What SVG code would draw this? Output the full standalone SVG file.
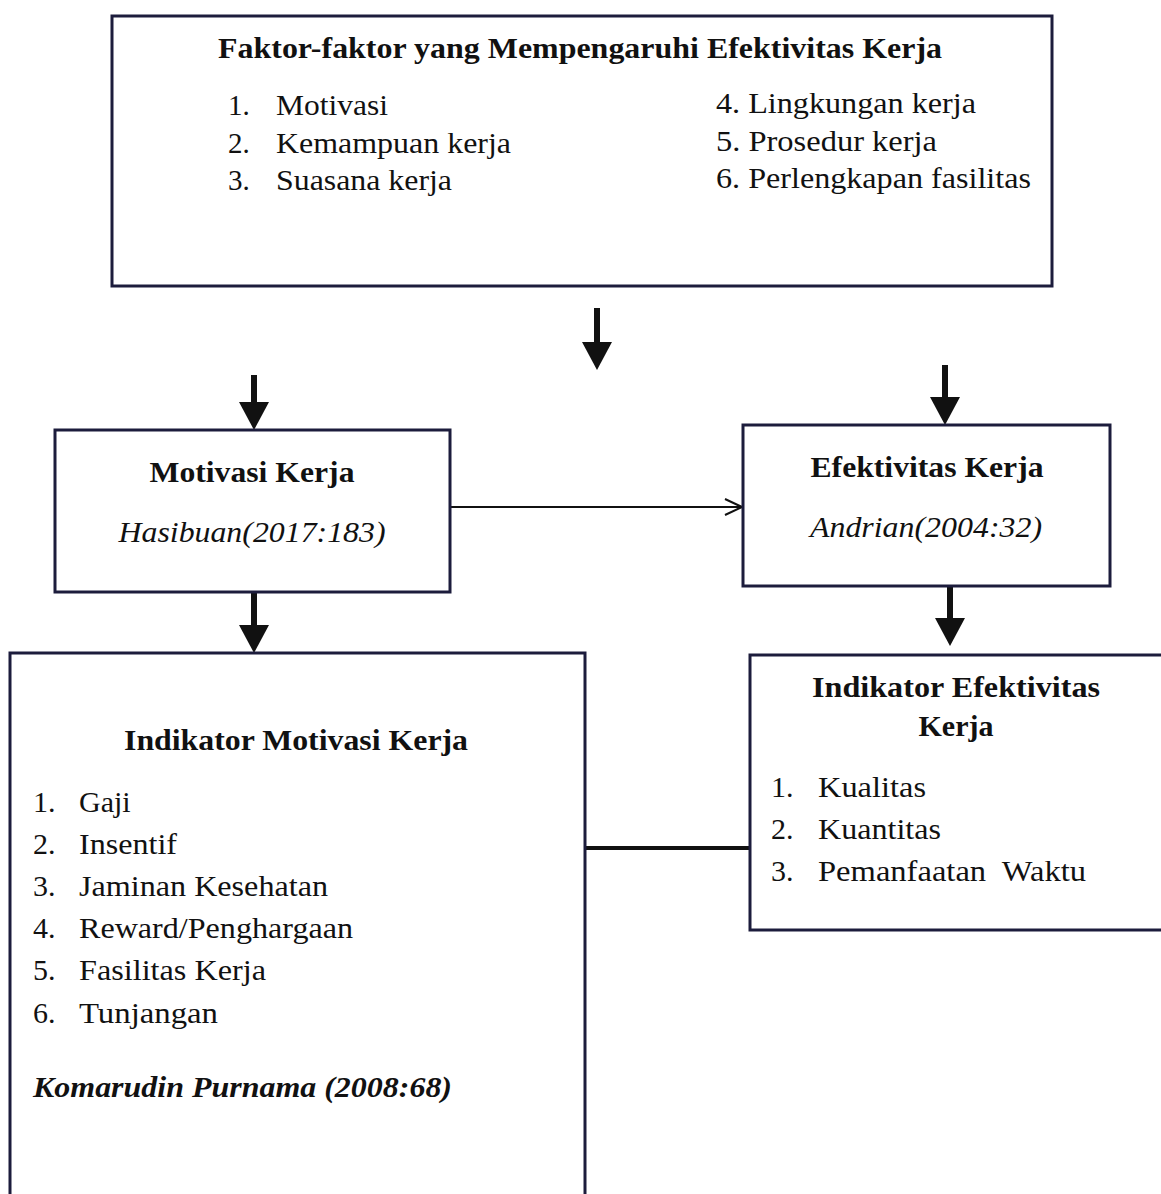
<svg xmlns="http://www.w3.org/2000/svg" width="1161" height="1194" viewBox="0 0 1161 1194" font-family="'Liberation Serif', Tinos, 'Times New Roman', Times, serif">
<defs>
<style>
.box{fill:#fff;stroke:#1c1c3c;stroke-width:3}
.t{fill:#111}
.b{font-weight:bold}
.i{font-style:italic}
.m{text-anchor:middle}
.thick{stroke:#111;stroke-width:6;fill:none}
</style>
<marker id="ah" markerUnits="userSpaceOnUse" viewBox="0 0 28 30" markerWidth="28" markerHeight="30" refX="8" refY="15" orient="auto">
<path d="M0,0 L28,15 L0,30 Z" fill="#111"/>
</marker>
<marker id="oa" markerUnits="userSpaceOnUse" viewBox="0 0 20 18" markerWidth="20" markerHeight="18" refX="18" refY="9" orient="auto">
<path d="M1,1 L18,9 L1,17" fill="none" stroke="#111" stroke-width="2"/>
</marker>
</defs>
<rect width="1161" height="1194" fill="#fff"/>

<g id="connectors">
<line class="thick" x1="597" y1="308" x2="597" y2="350" marker-end="url(#ah)"/>
<line class="thick" x1="254" y1="375" x2="254" y2="410" marker-end="url(#ah)"/>
<line class="thick" x1="945" y1="365" x2="945" y2="405" marker-end="url(#ah)"/>
<line class="thick" x1="254" y1="593" x2="254" y2="633" marker-end="url(#ah)"/>
<line class="thick" x1="950" y1="587" x2="950" y2="626" marker-end="url(#ah)"/>
<line x1="450" y1="507" x2="742" y2="507" stroke="#111" stroke-width="2" marker-end="url(#oa)"/>
<line x1="585" y1="848" x2="750" y2="848" stroke="#111" stroke-width="4"/>
</g>

<g id="faktor">
<rect class="box" x="112" y="16" width="940" height="270"/>
<text class="t b m" x="580" y="58" font-size="30" textLength="724" lengthAdjust="spacingAndGlyphs">Faktor-faktor yang Mempengaruhi Efektivitas Kerja</text>
<g class="t" font-size="29">
<text x="228" y="115">1.</text><text x="276" y="115" textLength="112" lengthAdjust="spacingAndGlyphs">Motivasi</text>
<text x="228" y="153">2.</text><text x="276" y="153" textLength="235" lengthAdjust="spacingAndGlyphs">Kemampuan kerja</text>
<text x="228" y="190">3.</text><text x="276" y="190" textLength="176" lengthAdjust="spacingAndGlyphs">Suasana kerja</text>
<text x="716" y="113" textLength="260" lengthAdjust="spacingAndGlyphs">4. Lingkungan kerja</text>
<text x="716" y="151" textLength="221" lengthAdjust="spacingAndGlyphs">5. Prosedur kerja</text>
<text x="716" y="188" textLength="315" lengthAdjust="spacingAndGlyphs">6. Perlengkapan fasilitas</text>
</g>
</g>

<g id="motivasi">
<rect class="box" x="55" y="430" width="395" height="162"/>
<text class="t b m" x="252" y="482" font-size="30" textLength="205" lengthAdjust="spacingAndGlyphs">Motivasi Kerja</text>
<text class="t i m" x="252" y="542" font-size="30" textLength="267" lengthAdjust="spacingAndGlyphs">Hasibuan(2017:183)</text>
</g>

<g id="efektivitas">
<rect class="box" x="743" y="425" width="367" height="161"/>
<text class="t b m" x="927" y="477" font-size="30" textLength="233" lengthAdjust="spacingAndGlyphs">Efektivitas Kerja</text>
<text class="t i m" x="926" y="537" font-size="30" textLength="232" lengthAdjust="spacingAndGlyphs">Andrian(2004:32)</text>
</g>

<g id="indikator-motivasi">
<rect class="box" x="10" y="653" width="575" height="560"/>
<text class="t b m" x="296" y="750" font-size="30" textLength="344" lengthAdjust="spacingAndGlyphs">Indikator Motivasi Kerja</text>
<g class="t" font-size="30">
<text x="33" y="812">1.</text><text x="79" y="812">Gaji</text>
<text x="33" y="854">2.</text><text x="79" y="854" textLength="98" lengthAdjust="spacingAndGlyphs">Insentif</text>
<text x="33" y="896">3.</text><text x="79" y="896" textLength="249" lengthAdjust="spacingAndGlyphs">Jaminan Kesehatan</text>
<text x="33" y="938">4.</text><text x="79" y="938" textLength="274" lengthAdjust="spacingAndGlyphs">Reward/Penghargaan</text>
<text x="33" y="980">5.</text><text x="79" y="980" textLength="187" lengthAdjust="spacingAndGlyphs">Fasilitas Kerja</text>
<text x="33" y="1023">6.</text><text x="79" y="1023" textLength="139" lengthAdjust="spacingAndGlyphs">Tunjangan</text>
</g>
<text class="t b i" x="33" y="1097" font-size="30" textLength="419" lengthAdjust="spacingAndGlyphs">Komarudin Purnama (2008:68)</text>
</g>

<g id="indikator-efektivitas">
<rect class="box" x="750" y="655" width="430" height="275"/>
<text class="t b m" x="956" y="697" font-size="30" textLength="288" lengthAdjust="spacingAndGlyphs">Indikator Efektivitas</text>
<text class="t b m" x="956" y="736" font-size="30">Kerja</text>
<g class="t" font-size="30">
<text x="771" y="797">1.</text><text x="818" y="797" textLength="108" lengthAdjust="spacingAndGlyphs">Kualitas</text>
<text x="771" y="839">2.</text><text x="818" y="839" textLength="123" lengthAdjust="spacingAndGlyphs">Kuantitas</text>
<text x="771" y="881">3.</text><text x="818" y="881" textLength="268" lengthAdjust="spacingAndGlyphs" xml:space="preserve">Pemanfaatan  Waktu</text>
</g>
</g>
</svg>
